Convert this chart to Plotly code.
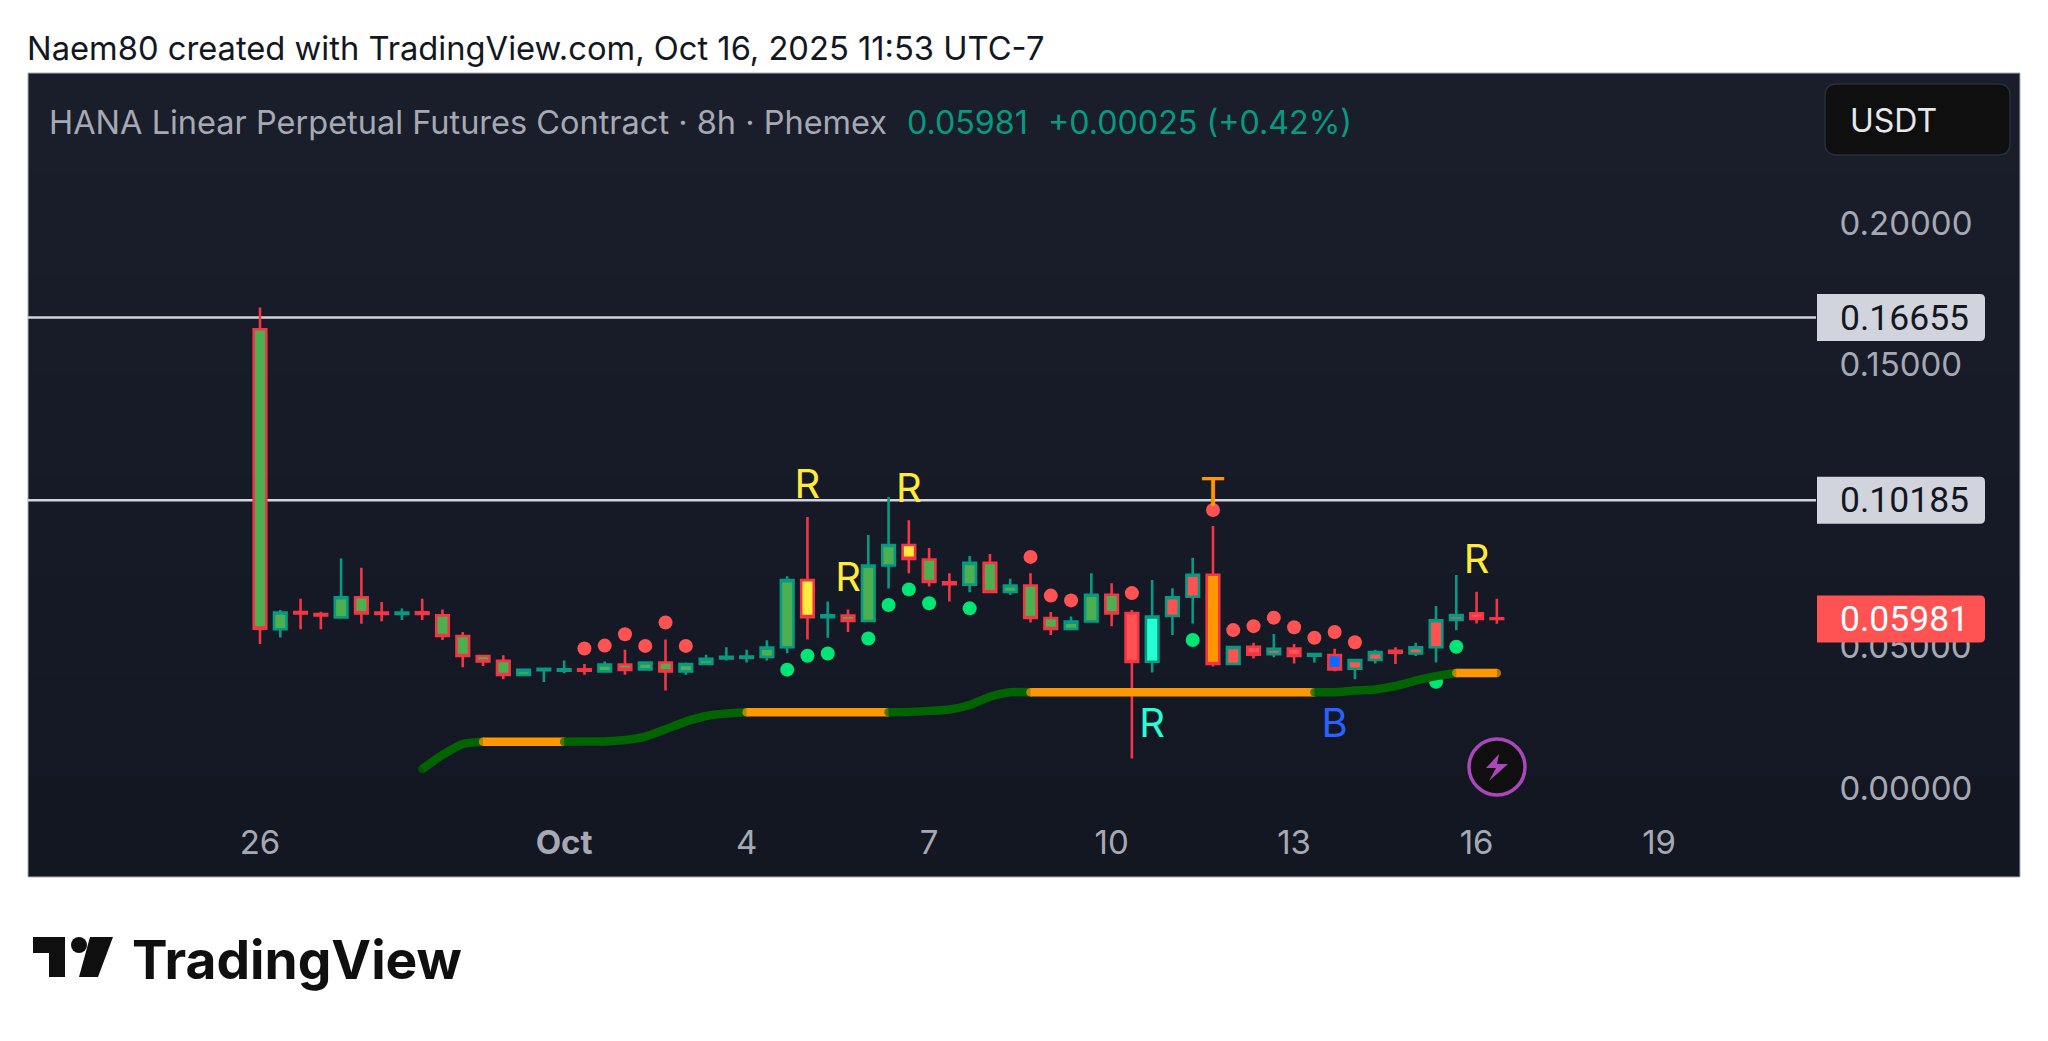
import pandas as pd
import plotly.graph_objects as go

TEAL = "#089981"
RED = "#F23645"
# panel runs a little lighter at the top
PANEL_BANDS = ["#1A1E2A", "#191D29", "#181C28", "#171B27", "#161A26", "#151925", "#141824", "#131722"]

# --- bars, 8h, from the picture ---
bar_times = pd.date_range("2025-09-26 00:00", periods=62, freq="8h")

opens = [.1624, .0562, .0623, .0616, .0604, .0675, .0621, .0616, .0622, .0611,
         .0538, .0467, .0450, .0400, .0417, .0415, .0420, .0413, .0437, .0420,
         .0444, .0413, .0439, .0459, .0460, .0464, .0498, .0736, .0605, .0610,
         .0591, .0788, .0860, .0809, .0728, .0720, .0797, .0694, .0717, .0602,
         .0563, .0590, .0684, .0619, .0447, .0609, .0677, .0755, .0439, .0500,
         .0474, .0494, .0468, .0471, .0422, .0453, .0486, .0476, .0498, .0595,
         .0618, .0601]
highs = [.1701, .0630, .0670, .0624, .0812, .0780, .0658, .0635, .0670, .0632,
         .0552, .0472, .0470, .0422, .0425, .0451, .0439, .0448, .0489, .0448,
         .0526, .0444, .0472, .0498, .0489, .0523, .0750, .0959, .0660, .0632,
         .0896, .1030, .0948, .0850, .0760, .0821, .0828, .0741, .0760, .0623,
         .0607, .0760, .0725, .0630, .0736, .0707, .0815, .0927, .0499, .0514,
         .0545, .0510, .0477, .0493, .0455, .0489, .0498, .0514, .0644, .0754,
         .0695, .0670]
lows = [.0510, .0533, .0562, .0562, .0604, .0581, .0590, .0595, .0595, .0524,
        .0427, .0432, .0385, .0400, .0375, .0406, .0401, .0413, .0401, .0420,
        .0345, .0401, .0439, .0451, .0444, .0451, .0477, .0526, .0532, .0552,
        .0589, .0706, .0760, .0713, .0660, .0693, .0694, .0683, .0586, .0542,
        .0563, .0590, .0573, .0104, .0409, .0542, .0582, .0430, .0439, .0458,
        .0463, .0441, .0444, .0413, .0385, .0441, .0439, .0467, .0444, .0558,
        .0582, .0581]
closes = [.0564, .0621, .0618, .0611, .0675, .0618, .0616, .0621, .0616, .0538,
          .0467, .0448, .0400, .0418, .0422, .0420, .0415, .0437, .0418, .0444,
          .0413, .0439, .0457, .0464, .0465, .0497, .0736, .0605, .0611, .0591,
          .0787, .0860, .0811, .0729, .0721, .0797, .0694, .0717, .0602, .0563,
          .0589, .0684, .0618, .0446, .0607, .0675, .0755, .0439, .0499, .0472,
          .0493, .0467, .0474, .0420, .0453, .0481, .0479, .0498, .0594, .0612,
          .0598, .05981]

# body colour of each bar: g green, y yellow, c aqua, r red, o orange, b blue
bar_fills = list("ggggggggggggggggggggggggggg" "y" "gggg" "y" "gggggggggg"
                 "rcrro" "rrrrrbrrgrrrr" "r")[:62]

# signal dots
red_dot_bars = [16, 17, 18, 19, 20, 21, 38, 39, 40, 43, 47, 48, 49, 50, 51, 52, 53, 54]
red_dot_prices = [.0494, .0504, .0544, .0503, .0586, .0503, .0818, .0681, .0664, .0690,
                  .0984, .0559, .0573, .0603, .0569, .0532, .0552, .0516]
green_dot_bars = [26, 27, 28, 30, 31, 32, 33, 35, 46, 58, 59]
green_dot_prices = [.0419, .0468, .0476, .0529, .0648, .0703, .0654, .0636, .0524, .0376, .0500]

# trailing line, starts at bar 8
trail_start = 8
trail_values = [.0067, .0117, .0156, .0164, .0164, .0164, .0164, .0164, .0165, .0165,
                .0170, .0182, .0208, .0235, .0255, .0264, .0268, .0268, .0268, .0268,
                .0268, .0268, .0268, .0268, .0269, .0273, .0278, .0294, .0323, .0339,
                .0339, .0339, .0339, .0339, .0339, .0339, .0339, .0339, .0339, .0339,
                .0339, .0339, .0339, .0339, .0339, .0339, .0345, .0349, .0361, .0380,
                .0396, .0407, .0407, .0407]
trail_states = list("GGG" "OOOOO" "GGGGGGGG" "OOOOOOOO" "GGGGGG" "OOOOOOOOOOOOOOO" "GGGGGG" "OOO")

# letters on the chart
letter_bars = [27, 29, 32, 44, 47, 53, 60]
letter_prices = [.1062, .0733, .1048, .0216, .1034, .0216, .0797]
letter_texts = ["R", "R", "R", "R", "T", "B", "R"]
letter_colors = ["#FFEB3B", "#FFEB3B", "#FFEB3B", "#26FFD5", "#FF9800", "#2962FF", "#FFEB3B"]

level_prices = [0.16655, 0.10185]
last_price = 0.05981

y_ticks = [0.0, 0.05, 0.15, 0.20]
y_tick_labels = ["0.00000", "0.05000", "0.15000", "0.20000"]
x_ticks = ["2025-09-26", "2025-10-01", "2025-10-04", "2025-10-07", "2025-10-10",
           "2025-10-13", "2025-10-16", "2025-10-19"]
x_tick_labels = ["26", "<b>Oct</b>", "4", "7", "10", "13", "16", "19"]

# --- page geometry (pixels) ---
OFF = 8  # body margin of the page
L, R, T, B = 28 - OFF, 1816 - OFF, 73 - OFF, 807 - OFF
W, H = 2048 - 2 * OFF, 1041 - 2 * OFF


def fx(px):
    return (px - OFF - L) / (R - L)


def fy(py):
    return (B - (py - OFF)) / (B - T)


def rounded(x0, y0, x1, y1, r, left=True):
    # rounded box in page pixels, square on the left if left is False
    a, b, c, d = fx(x0), fy(y0), fx(x1), fy(y1)
    rx, ry = r / (R - L), r / (B - T)
    if left:
        return (f"M{a + rx},{b} L{c - rx},{b} Q{c},{b} {c},{b - ry} L{c},{d + ry} Q{c},{d} {c - rx},{d} "
                f"L{a + rx},{d} Q{a},{d} {a},{d + ry} L{a},{b - ry} Q{a},{b} {a + rx},{b} Z")
    return (f"M{a},{b} L{c - rx},{b} Q{c},{b} {c},{b - ry} L{c},{d + ry} Q{c},{d} {c - rx},{d} L{a},{d} Z")


def poly(points):
    return "M" + " L".join(f"{fx(x)},{fy(y)}" for x, y in points) + " Z"


fig = go.Figure()

# --- candles, one trace per body colour ---
fill_colors = {"g": "#4CAF50", "y": "#FFEB3B", "c": "#26FFD5", "r": "#FF5252", "o": "#FF9800", "b": "#0A6CFF"}
for key, color in fill_colors.items():
    idx = [i for i, f in enumerate(bar_fills) if f == key]
    fig.add_trace(go.Candlestick(
        x=[bar_times[i] for i in idx],
        open=[opens[i] for i in idx],
        high=[highs[i] for i in idx],
        low=[lows[i] for i in idx],
        close=[closes[i] for i in idx],
        increasing=dict(line=dict(color=TEAL, width=2.6), fillcolor=color),
        decreasing=dict(line=dict(color=RED, width=2.6), fillcolor=color),
        hoverinfo="skip",
        showlegend=False,
    ))

# --- dots ---
fig.add_trace(go.Scatter(
    x=[bar_times[i] for i in red_dot_bars], y=red_dot_prices, mode="markers",
    marker=dict(size=14, color="#FF5252"), hoverinfo="skip", showlegend=False))
fig.add_trace(go.Scatter(
    x=[bar_times[i] for i in green_dot_bars], y=green_dot_prices, mode="markers",
    marker=dict(size=14, color="#00E676"), hoverinfo="skip", showlegend=False))

# --- trailing line, split where the colour changes ---
runs = []
for i, s in enumerate(trail_states):
    if runs and runs[-1][0] == s:
        runs[-1][2] = i
    else:
        runs.append([s, i, i])
for s, a, b in runs:
    if s == "G":
        a, b = max(a - 1, 0), min(b + 1, len(trail_values) - 1)
    seg_x = [bar_times[trail_start + i] for i in range(a, b + 1)]
    seg_y = trail_values[a:b + 1]
    sizes = [8.5 if j in (0, len(seg_x) - 1) else 0 for j in range(len(seg_x))]
    color = "#006400" if s == "G" else "#FF9800"
    fig.add_trace(go.Scatter(
        x=seg_x, y=seg_y, mode="lines+markers",
        line=dict(color=color, width=8.5, shape="spline" if s == "G" else "linear", smoothing=0.6),
        marker=dict(size=sizes, color=color, line=dict(width=0)),
        hoverinfo="skip", showlegend=False))

# --- letters ---
fig.add_trace(go.Scatter(
    x=[bar_times[i] for i in letter_bars], y=letter_prices, mode="text", text=letter_texts,
    textposition="middle center",
    textfont=dict(family="Inter", size=40, color=letter_colors),
    hoverinfo="skip", showlegend=False))

# --- panel and price levels ---
shapes = []
band_h = (877 - 73) / len(PANEL_BANDS)
for k, col in enumerate(PANEL_BANDS):
    # each band runs to the panel bottom so no seam shows between them
    shapes.append(dict(type="rect", xref="paper", yref="paper", layer="below",
                       x0=fx(28), x1=fx(2020), y0=fy(877), y1=fy(73 + k * band_h),
                       fillcolor=col, line=dict(width=0)))
shapes.append(dict(type="rect", xref="paper", yref="paper", layer="below",
                   x0=fx(28), x1=fx(2020), y0=fy(877), y1=fy(73),
                   line=dict(color="#A9ADB5", width=1)))
for p in level_prices:
    shapes.append(dict(type="line", xref="paper", yref="y", layer="below", x0=0, x1=1, y0=p, y1=p,
                       line=dict(color="#D1D4DC", width=2.6)))
# price tags
for p, col in ((level_prices[0], "#D1D4DC"), (level_prices[1], "#D1D4DC"), (last_price, "#FF5252")):
    cy = 788 - p * 2825
    shapes.append(dict(type="path", xref="paper", yref="paper", layer="above",
                       path=rounded(1817, cy - 23.5, 1985, cy + 23.5, 5, left=False),
                       fillcolor=col, line=dict(width=0)))
# USDT box
shapes.append(dict(type="path", xref="paper", yref="paper", layer="above",
                   path=rounded(1825, 84, 2010, 155, 12), fillcolor="#0F0F0F",
                   line=dict(color="#2A2E39", width=1.5)))
# lightning badge
shapes.append(dict(type="circle", xref="paper", yref="paper", layer="above",
                   x0=fx(1469), x1=fx(1525), y0=fy(795), y1=fy(739), fillcolor="#0F0F0F",
                   line=dict(color="#AB47BC", width=3.5)))
bolt = [(1499, 754), (1486, 768), (1496, 768), (1489, 781), (1508, 764), (1497, 764), (1499, 754)]
shapes.append(dict(type="path", xref="paper", yref="paper", layer="above", path=poly(bolt),
                   fillcolor="#AB47BC", line=dict(width=0)))
# logo
logo_t = [(33, 937), (65, 937), (65, 977), (49, 977), (49, 953), (33, 953)]
logo_slash = [(90, 937), (113, 937), (98, 977), (79, 977)]
shapes.append(dict(type="path", xref="paper", yref="paper", layer="above", path=poly(logo_t),
                   fillcolor="#0F0F0F", line=dict(width=0)))
shapes.append(dict(type="path", xref="paper", yref="paper", layer="above", path=poly(logo_slash),
                   fillcolor="#0F0F0F", line=dict(width=0)))
shapes.append(dict(type="circle", xref="paper", yref="paper", layer="above",
                   x0=fx(71), x1=fx(87), y0=fy(953), y1=fy(937), fillcolor="#0F0F0F", line=dict(width=0)))


def note(text, px, py, size, color, family="Inter", anchor="left", weight=None):
    return dict(text=text, xref="paper", yref="paper", x=fx(px), y=fy(py), xanchor=anchor, yanchor="middle",
                showarrow=False, font=dict(family=family, size=size, color=color, weight=weight))


annotations = [
    note("Naem80 created with TradingView.com, Oct 16, 2025 11:53 UTC-7", 25, 48, 32.7, "#131722"),
    note("HANA Linear Perpetual Futures Contract · 8h · Phemex", 47, 122, 32.5, "#A6A9B3"),
    note("0.05981", 905, 122, 32.2, TEAL),
    note("+0.00025 (+0.42%)", 1046, 122, 32.2, TEAL),
    note("USDT", 1848, 120, 32, "#E6E8EE"),
    note("0.16655", 1904, 317.5, 35.5, "#131722", family="Roboto", anchor="center"),
    note("0.10185", 1904, 500, 35.5, "#131722", family="Roboto", anchor="center"),
    note("0.05981", 1904, 619, 35.5, "#FFFFFF", family="Roboto", anchor="center"),
    note("TradingView", 130, 959, 53.3, "#0F0F0F", weight=700),
]

fig.update_layout(
    width=W, height=H, autosize=False,
    margin=dict(l=L, r=W - R, t=T, b=H - B, pad=0),
    paper_bgcolor="white", plot_bgcolor="rgba(0,0,0,0)",
    font=dict(family="Inter", color="#A6A9B3", size=30),
    boxmode="overlay", boxgap=0.38, boxgroupgap=0,
    showlegend=False,
    shapes=shapes, annotations=annotations,
    xaxis=dict(
        type="date", range=["2025-09-22 04:28", "2025-10-21 13:55"],
        rangeslider=dict(visible=False), showgrid=False, zeroline=False, showline=False,
        tickmode="array", tickvals=x_ticks, ticktext=x_tick_labels,
        ticks="outside", ticklen=6, tickcolor="rgba(0,0,0,0)", tickangle=0,
        tickfont=dict(family="Inter", size=33, color="#A6A9B3"),
    ),
    yaxis=dict(
        side="right", range=[(788 - B - OFF) / 2825, (788 - T - OFF) / 2825],
        showgrid=False, zeroline=False, showline=False,
        tickmode="array", tickvals=y_ticks, ticktext=y_tick_labels,
        ticks="outside", ticklen=16, tickcolor="rgba(0,0,0,0)",
        tickfont=dict(family="Inter", size=33, color="#A6A9B3"),
    ),
)

fig.write_html("out.html")
